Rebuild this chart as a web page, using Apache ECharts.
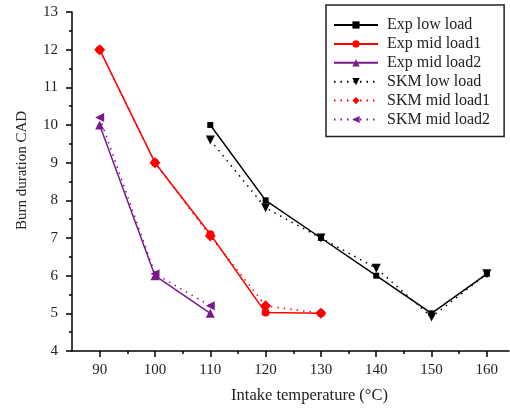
<!DOCTYPE html>
<html>
<head>
<meta charset="utf-8">
<script src="https://cdn.jsdelivr.net/npm/echarts@6/dist/echarts.min.js"></script>
<style>
    html, body { margin: 0; padding: 0; background: #fff; }
    #chart { width: 510px; height: 409px; }
</style>
</head>
<body>
<div id="chart"></div>
<script>
// intake temperatures (°C)
const lowTemps = [110, 120, 130, 140, 150, 160]
const midTemps1 = [90, 100, 110, 120, 130]
const midTemps2 = [90, 100, 110]

// burn duration (CAD)
const expLow = [10, 8, 7, 6, 5, 6.05]
const skmLow = [9.6, 7.8, 7, 6.2, 4.9, 6.05]
const expMid1 = [12, 9, 7.1, 5.02, 5]
const skmMid1 = [12, 9, 7.05, 5.2, 5]
const expMid2 = [10, 6, 5]
const skmMid2 = [10.2, 6.05, 5.2]

const majorTicks = [90, 100, 110, 120, 130, 140, 150, 160]
const minorTicks = [95, 105, 115, 125, 135, 145, 155]

const FONT = '"Liberation Serif", "Times New Roman", serif'
const BLACK = '#000000'
const RED = '#ff0000'
const PURPLE = '#7a1a8a'

const pairs = (xs, ys) => xs.map((x, i) => [x, ys[i]])

function expSeries(name, xs, ys, color, symbol, size, rotate) {
    return {
        name: name,
        type: 'line',
        data: pairs(xs, ys),
        symbol: symbol,
        symbolSize: size,
        symbolRotate: rotate || 0,
        lineStyle: { color: color, width: 1.5, type: 'solid' },
        itemStyle: { color: color },
        z: 3,
    }
}

function skmSeries(name, xs, ys, color, symbol, size, rotate) {
    return {
        name: name,
        type: 'line',
        data: pairs(xs, ys),
        symbol: symbol,
        symbolSize: size,
        symbolRotate: rotate || 0,
        lineStyle: { color: color, width: 1.5, type: [1.5, 5] },
        itemStyle: { color: color },
        z: 2,
    }
}

const chart = echarts.init(document.getElementById('chart'))
chart.setOption({
    animation: false,
    backgroundColor: '#fff',
    textStyle: { fontFamily: FONT },
    grid: {
        left: 72,
        right: 1,
        top: 12,
        bottom: 57,
    },
    legend: {
        orient: 'vertical',
        left: 326,
        top: 5,
        padding: [12, 14, 9, 7],
        borderColor: '#222',
        borderWidth: 1.5,
        backgroundColor: '#fff',
        itemWidth: 44,
        itemHeight: 9,
        itemGap: 2.9,
        textStyle: {
            fontFamily: FONT,
            fontSize: 16,
            color: '#222',
            padding: [0, 0, 0, 4],
        },
        data: ['Exp low load', 'Exp mid load1', 'Exp mid load2',
            'SKM low load', 'SKM mid load1', 'SKM mid load2'],
    },
    xAxis: [
        {
            type: 'value',
            min: 85,
            max: 164,
            name: 'Intake temperature (°C)',
            nameLocation: 'middle',
            nameGap: 36,
            nameTextStyle: {
                fontFamily: FONT,
                fontSize: 16.5,
                color: '#222',
                padding: [0, 0, 0, 38],
            },
            axisLine: { show: true, lineStyle: { color: BLACK, width: 1.5 } },
            axisTick: {
                show: true,
                customValues: majorTicks,
                length: 6,
                lineStyle: { color: BLACK, width: 1.5 },
            },
            axisLabel: {
                customValues: majorTicks,
                margin: 12,
                fontFamily: FONT,
                fontSize: 15,
                color: '#222',
            },
            splitLine: { show: false },
        },
        {
            type: 'value',
            position: 'bottom',
            min: 85,
            max: 164,
            axisLine: { show: false },
            axisTick: {
                show: true,
                customValues: minorTicks,
                length: 3,
                lineStyle: { color: BLACK, width: 1.5 },
            },
            axisLabel: { show: false },
            splitLine: { show: false },
        },
    ],
    yAxis: {
        type: 'value',
        min: 4,
        max: 13,
        interval: 1,
        name: 'Burn duration CAD',
        nameLocation: 'middle',
        nameGap: 42,
        nameTextStyle: {
            fontFamily: FONT,
            fontSize: 15,
            color: '#222',
            padding: [0, 0, 0, 22],
        },
        axisLine: { show: true, lineStyle: { color: BLACK, width: 1.5 } },
        axisTick: { show: true, length: 6, lineStyle: { color: BLACK, width: 1.5 } },
        minorTick: { show: true, splitNumber: 2, length: 3, lineStyle: { color: BLACK, width: 1.5 } },
        axisLabel: {
            margin: 14,
            fontFamily: FONT,
            fontSize: 15,
            color: '#222',
        },
        splitLine: { show: false },
    },
    series: [
        expSeries('Exp low load', lowTemps, expLow, BLACK, 'rect', 6),
        expSeries('Exp mid load1', midTemps1, expMid1, RED, 'circle', 8),
        expSeries('Exp mid load2', midTemps2, expMid2, PURPLE, 'triangle', 9),
        skmSeries('SKM low load', lowTemps, skmLow, BLACK, 'triangle', 9, 180),
        skmSeries('SKM mid load1', midTemps1, skmMid1, RED, 'diamond', 11),
        skmSeries('SKM mid load2', midTemps2, skmMid2, PURPLE, 'triangle', 9, 90),
    ],
})
</script>
</body>
</html>
